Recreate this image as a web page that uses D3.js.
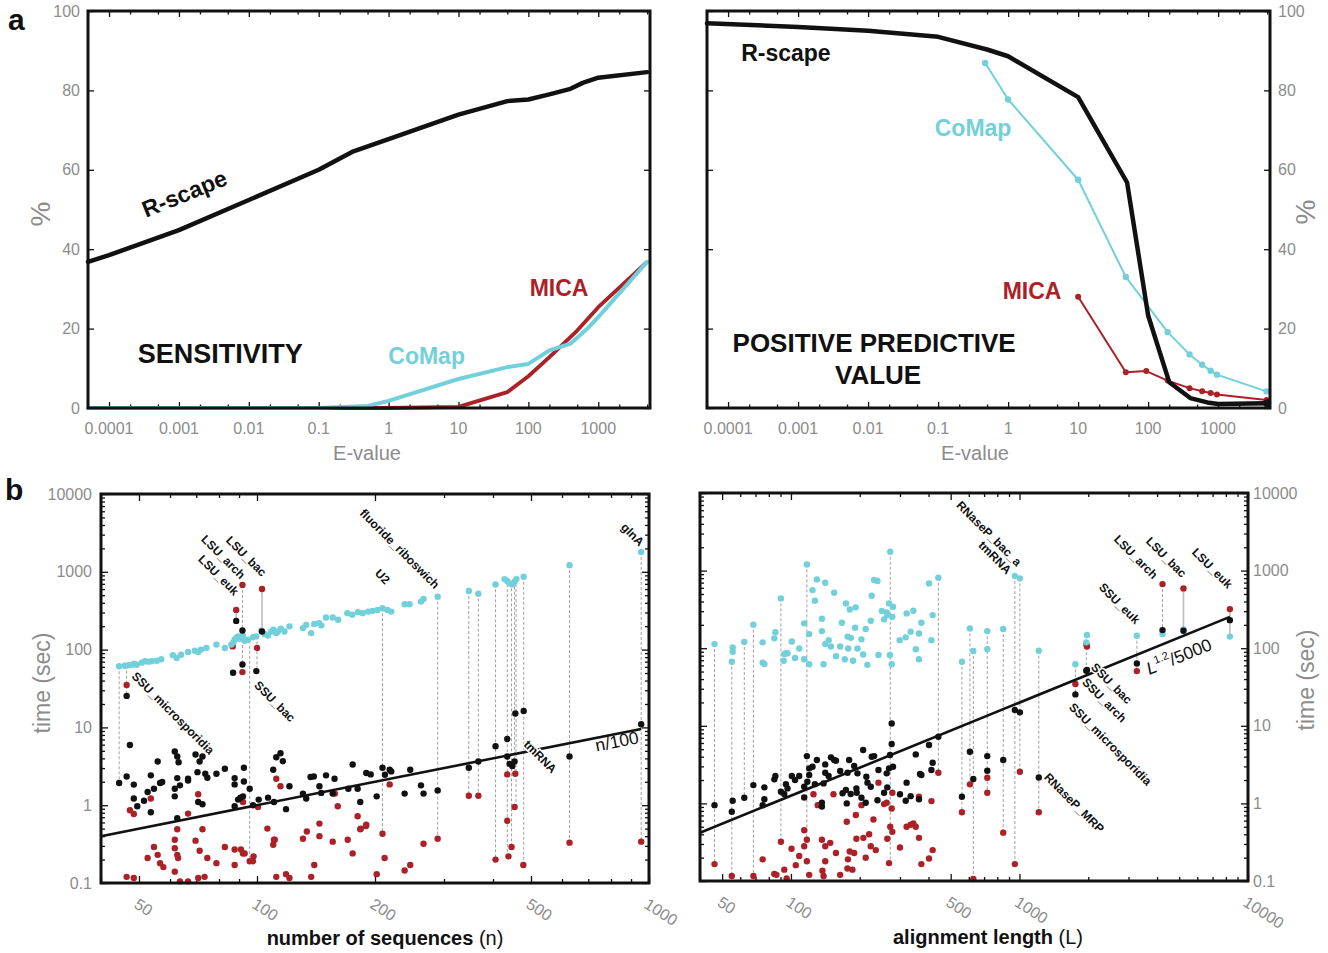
<!DOCTYPE html>
<html lang="en">
<head>
<meta charset="UTF-8">
<title>R-scape vs CoMap vs MICA</title>
<script src="https://d3js.org/d3.v7.min.js"></script>
<style>
  body { margin: 0; background: #fff; }
  svg text { font-family: "Liberation Sans", Arial, sans-serif; }
</style>
</head>
<body>
<svg id="chart" width="1328" height="953"></svg>
<script>
// ---- panel a: sensitivity (%) vs E-value
const sensRscapeE = [5e-5, 1e-4, 1e-3, 1e-2, 0.1, 0.3, 1, 10, 50, 100, 200, 400, 600, 1000, 5000];
const sensRscape  = [36.8, 38.5, 44.8, 52.4, 60, 64.5, 67.7, 73.9, 77.3, 77.7, 79, 80.4, 81.9, 83.2, 84.6];
const sensComapE  = [5e-5, 0.1, 0.5, 1, 10, 50, 100, 200, 400, 700, 1000, 5000];
const sensComap   = [0, 0, 0.5, 1.8, 7.3, 10.3, 11.1, 14.5, 16.2, 20, 22.9, 36.8];
const sensMicaE   = [0.1, 1, 10, 50, 100, 200, 500, 1000, 5000];
const sensMica    = [0, 0, 0.3, 4, 8, 12.8, 19.5, 25.4, 36.8];

// ---- panel a: positive predictive value (%) vs E-value
const ppvRscapeE = [5e-5, 1e-3, 1e-2, 0.1, 0.5, 1, 10, 50, 100, 200, 400, 700, 1000, 5000];
const ppvRscape  = [96.9, 96, 95, 93.5, 90.3, 88.6, 78.3, 56.8, 23.3, 6.5, 2.5, 1.4, 1, 1.2];
const ppvComapE  = [0.47, 1, 10, 48, 190, 390, 590, 780, 960, 4900];
const ppvComap   = [86.9, 77.7, 57.5, 33, 19.1, 13.5, 10.9, 9.4, 8.4, 4.2];
const ppvMicaE   = [10, 48, 94, 190, 390, 590, 780, 960, 4900];
const ppvMica    = [28, 9, 9.3, 6.9, 5, 4.2, 3.8, 3.4, 2];

const eTicks = [1e-4, 1e-3, 1e-2, 0.1, 1, 10, 100, 1000];
const eTickLabels = ["0.0001", "0.001", "0.01", "0.1", "1", "10", "100", "1000"];
const pctTicks = [0, 20, 40, 60, 80, 100];

// ---- panel b: run time (sec) vs number of sequences n  [n, time]
const comapN = [[44.5,61],[46,62],[47,63],[48,64],[48.6,66],[49.3,64],[50.8,68],[51.8,71],[52.8,70],[53.9,71],[55.5,72],[57,75],[61,85],[62.4,78],[64,86],[66.7,93],[69.4,97],[70.8,93],[72,100],[74.3,105],[78.8,116],[82.8,105],[86,116],[87,124],[87.7,134],[88.5,141],[89.5,148],[90.4,138],[91.2,144],[92,152],[93,130],[94.8,134],[97.7,144],[99.6,148],[102.6,175],[104.6,158],[106.7,152],[108.8,171],[110,180],[112,163],[113,171],[115,185],[117.5,171],[121,199],[131,189],[133.5,208],[137.5,163],[140,213],[144,219],[146,205],[150,259],[156,259],[161,242],[170,294],[175,280],[181,303],[186,294],[192,308],[197,315],[203,324],[209,340],[215,324],[220,308],[238,383],[245,383],[262,414],[266,448],[289,479],[347,566],[367,524],[406,689],[428,806],[435,760],[441,710],[448,689],[454,745],[459,806],[479,863],[627,1217],[955,1800]];
const rscapeN = [[88.5,234],[91.8,176],[103,171],[86.9,50.4],[91.8,64.4],[99.6,52.9],[46.5,25.4],[47.4,5.95],[44.5,1.93],[46.5,2.34],[48.5,1.84],[48.5,1.22],[49.5,0.97],[51.5,1.14],[52.6,1.48],[53.6,2.42],[53.6,0.81],[54.6,1.63],[55.8,3.65],[56.6,1.93],[57.3,1.99],[61.7,4.89],[61.7,1.63],[61.7,1.3],[62.6,4.22],[62.6,2.23],[62.6,0.68],[63.1,3.57],[63.6,1.8],[66.7,2.19],[66.7,2.08],[69.7,4.48],[70.5,2.66],[71.4,3.65],[72.6,4.22],[70.8,1.1],[72.6,1.03],[73.8,2.54],[74.7,2.25],[78.8,2.54],[82.8,2.94],[87.7,2.23],[87.7,1.85],[87.7,0.97],[89.5,1.18],[90.7,1.25],[92.1,1.3],[92.6,2.02],[92.6,3.03],[95.8,1.63],[97.7,1],[101,1.18],[106.7,1.25],[110,2.85],[110.5,1.1],[112,4.14],[114.8,4.66],[116.4,3.68],[118.6,0.89],[121,1.75],[131,1.41],[133.5,1.22],[137,2.3],[139.6,2.34],[144.3,1.75],[145.8,1.44],[150,2.42],[156,1.41],[157.7,2.19],[171,1.63],[175.4,3.34],[180.6,1.63],[183.4,1.1],[190,2.59],[195,2.49],[202,1.3],[209,3.03],[212,2.46],[218,2.85],[220,2.72],[238,1.41],[246,2.85],[262,1.8],[266,1.41],[289,1.55],[347,3.03],[367,3.65],[406,5.72],[435,7.1],[435,4.22],[441,3.4],[448,3.18],[454,3.65],[456,15.1],[479,16.3],[627,4.22],[955,11]];
const micaN = [[91.8,676],[88.5,324],[103,601],[86.7,110],[100,105],[91.8,51.4],[46.5,35.1],[47.4,0.86],[48.5,0.77],[53.6,1.22],[46.5,0.12],[48.5,0.116],[52.6,0.21],[54.6,0.29],[55.8,0.23],[56.6,0.18],[57.7,0.16],[61.7,0.14],[61.7,0.36],[61.7,0.28],[62.6,0.49],[62.6,0.23],[62.9,0.21],[63.6,0.105],[66.7,0.78],[66.7,0.105],[69.7,0.35],[70.8,1.38],[71.4,0.26],[72.6,0.49],[73.5,0.12],[70.8,0.116],[74.7,0.21],[78.8,0.18],[82.8,0.29],[87.7,0.27],[87.7,0.17],[91,0.27],[92.1,1.1],[92.1,0.24],[93,0.24],[95.8,0.19],[97.7,0.19],[98,0.22],[100.6,0.95],[106.3,0.5],[110,0.31],[110.5,0.36],[111,0.36],[112,2.19],[114.8,1.75],[112,0.12],[118.6,0.13],[121,0.116],[131,0.37],[134,0.46],[137.5,0.12],[140,0.17],[144.3,0.58],[144.3,0.4],[156,0.34],[158,1.41],[160.7,0.97],[170.4,0.36],[175.4,0.24],[180.6,0.72],[183.4,0.49],[189.7,0.54],[184,0.5],[190,0.56],[202,0.13],[209,0.43],[211.6,0.21],[218,1.85],[238,0.145],[246,0.17],[266,0.32],[289,0.37],[347,1.32],[367,1.32],[406,0.2],[435,2.49],[435,0.63],[438,0.22],[446,0.29],[456,2.54],[454,0.95],[478,0.17],[627,0.33],[955,0.34]];
// same family joined: [n, top, bottom, solid]
const linksN = [[44.5,61,1.93,0],[46.5,62,25.4,0],[88.5,324,234,1],[91.8,676,51.4,0],[95.8,130,0.19,0],[100,148,52.9,0],[103,601,171,1],[209,340,0.43,0],[289,479,0.37,0],[347,566,1.32,0],[367,524,1.32,0],[406,689,0.2,0],[435,806,0.22,0],[446,710,0.29,0],[454,745,2.54,0],[458,806,0.95,0],[479,863,0.17,0],[627,1217,0.33,0],[955,1800,0.34,0]];
const namesN = [["SSU_microsporidia",47.7,44.5],["SSU_bac",98,34],["LSU_euk",70.5,1420],["LSU_arch",71.8,2560],["LSU_bac",83,2490],["U2",199,937],["fluoride_riboswich",182,5530],["glnA",845,3660],["tmRNA",477,5.9]];
const nTicks = [50, 100, 200, 500, 1000];

// ---- panel b: run time (sec) vs alignment length L  [L, time]
const comapL = [[46.3,113],[55.1,67],[55.6,90],[55.6,102],[62.5,120],[68.5,201],[75.2,119],[76.5,62.5],[75.2,65],[84.6,134],[85.5,161],[90.4,438],[93.5,84],[95.1,86],[96.6,86],[93,69],[100.9,122],[104.2,75],[108.7,99],[114.3,209],[114.3,72],[117.4,1202],[120.2,152],[120.2,62],[124.3,561],[127.3,409],[129.9,770],[136.6,240],[136.6,166],[138.9,62],[141.3,698],[141.3,113],[146.2,127],[149.6,105],[154.6,519],[157.4,79],[164.2,105],[167,213],[172,72],[174,378],[177,141],[178,99],[181,316],[183,136],[187,69],[191,184],[192,336],[195.5,99],[203.5,130],[207,83],[212.4,177],[216,61],[223.5,226],[225.7,475],[231.2,755],[239.1,733],[241.5,82],[250,301],[255.6,235],[262.4,289],[264,267],[268.7,378],[271,82],[272,1750],[276,62],[277.8,254],[279.7,342],[299,127],[317.8,138],[320.7,281],[334,163],[343.3,304],[351.7,97],[363.3,155],[363.3,72],[372.2,213],[402,684],[411.6,127],[417,267],[441.7,809],[560,67],[606.5,180],[628,92],[723,166],[723,97],[849,177],[955,851],[1004,794],[1215,93],[1757,62],[1961,119],[1974,148],[3263,145],[4226,152],[5220,175],[8330,141]];
const rscapeL = [[46.3,0.95],[55.1,0.78],[55.6,1.08],[62.5,1.18],[68.5,1.72],[75.2,0.95],[76.5,1.13],[76.5,1.61],[84.6,2.04],[85.5,2.25],[90.4,1.41],[93.5,1.32],[95.1,1.77],[96.6,1.56],[100.9,2.25],[104.2,2],[108.7,2.25],[114.3,1.19],[114.3,1.64],[117.4,4.07],[118,1.9],[120.2,2.32],[120.2,2.83],[124.3,2.97],[129.9,3.62],[127.3,1.77],[136.6,1.02],[136.6,0.91],[138.9,1.81],[141.3,3.18],[141.3,2.48],[146.2,2.25],[149.6,3.92],[154.6,3.62],[157.4,3.55],[164.2,2.61],[168.2,1.35],[174,1.49],[175.5,1],[177,2.48],[179.7,3.62],[182.6,1.32],[189.1,3.03],[193.4,1.56],[194,1.37],[195.5,2.44],[203.5,1.18],[207,4.87],[212.4,1.02],[213.8,2.21],[216.2,1.85],[223.5,1.64],[225.7,3.99],[231.2,4.07],[239.1,1.1],[241.5,2.69],[255.6,1.37],[262.4,2.44],[264,1.61],[268.7,2.83],[271.4,4.2],[276,5.82],[276,10.7],[279.7,2.97],[300,1.31],[317.8,1.08],[320.7,1.85],[334,1.24],[351.7,4.28],[363.3,1.13],[367.2,2.39],[372.2,2.32],[402,5.65],[411.6,2.69],[417,3.34],[441.7,7.23],[560,1.22],[607,4.63],[628,2.06],[723,4.07],[723,2.64],[849,3.62],[955,16],[1004,14.9],[1215,2.16],[1757,25.4],[1961,51.3],[1974,52.3],[3263,63.7],[4226,171],[5220,168],[8330,230]];
const micaL = [[46.3,0.165],[55.1,0.116],[68.5,0.116],[75.2,0.19],[84.6,0.123],[86.4,0.12],[90.4,0.32],[93.5,0.14],[95.8,0.108],[100.6,0.26],[105,0.16],[108.7,0.21],[114.3,0.28],[117.4,0.34],[114.3,0.45],[117.4,0.18],[120.2,0.12],[125.5,1.31],[131,0.95],[136.6,0.34],[137.3,0.136],[138.9,0.116],[141.3,0.28],[141.3,0.18],[148.6,0.31],[153.5,1.31],[157.4,0.23],[164.2,0.12],[175.5,0.58],[176.7,0.145],[177.6,0.19],[180.8,0.24],[185.8,0.14],[189.1,0.23],[192.3,0.71],[193.4,0.35],[203.5,0.95],[207.5,0.36],[212.4,0.2],[219.9,0.4],[223.5,0.28],[229.6,0.62],[235.1,0.25],[241.5,1.85],[255.6,0.98],[262.4,1.02],[264,0.35],[268.7,0.17],[272,0.5],[277.8,0.43],[277.8,1.37],[276,0.86],[300,0.27],[320.7,0.5],[334,0.53],[343.3,0.55],[351.7,0.5],[363.3,1.22],[363.3,0.36],[372.2,0.165],[402,0.195],[417,0.25],[412,1.07],[441.7,2.48],[560,0.77],[607,1.76],[628,0.106],[723,2.14],[723,1.37],[849,0.42],[955,0.165],[1004,2.56],[1215,0.77],[1757,34.5],[1961,113],[1974,105],[3263,50.7],[4226,670],[5220,590],[8330,319]];
const linksL = [[46.3,113,0.165,0],[55.1,67,0.116,0],[62.5,120,1.18,0],[68.5,201,0.116,0],[90.4,438,0.32,0],[117.4,1202,0.34,0],[272,1750,0.17,0],[441.7,809,2.48,0],[560,67,0.77,0],[607,180,1.76,0],[628,92,0.106,0],[723,166,1.37,0],[849,177,0.42,0],[955,851,0.165,0],[1004,794,2.56,0],[1215,93,0.77,0],[1757,62,25.4,0],[1961,119,51.3,0],[3263,145,50.7,0],[4226,670,152,0],[5220,590,168,1],[8330,319,141,1]];
const namesL = [["RNaseP_bac_a",526,6800],["tmRNA",656,2075],["LSU_arch",2570,2480],["LSU_bac",3550,2340],["LSU_euk",5640,1690],["SSU_euk",2210,597],["SSU_bac",2040,55.6],["SSU_arch",1866,35.6],["SSU_microsporidia",1636,17],["RNaseP_MRP",1273,2.12]];
const lTicks = [50, 100, 500, 1000, 10000];

const timeTicks = [0.1, 1, 10, 100, 1000, 10000];

const CYAN = "#72d0da", RED = "#ab2127", BLACK = "#111", GREY = "#8c8c8c";

const svg = d3.select("#chart");

// scales
const xA1 = d3.scaleLog().domain([5e-5, 5500]).range([88, 650]);
const xA2 = d3.scaleLog().domain([5e-5, 5500]).range([707, 1270]);
const yA  = d3.scaleLinear().domain([0, 100]).range([408, 11]);
const xB1 = d3.scaleLog().domain([40, 1000]).range([101, 649]);
const xB2 = d3.scaleLog().domain([40, 10000]).range([700, 1248]);
const yB1 = d3.scaleLog().domain([0.1, 10000]).range([883, 494]);
const yB2 = d3.scaleLog().domain([0.1, 10000]).range([881, 493]);

function lead(v) {
  return Math.round(v / Math.pow(10, Math.floor(Math.log10(v) + 1e-9)));
}

// inward ticks on one side
function ticks(orient, scale, pos, values, len) {
  const gen = {bottom: d3.axisBottom, top: d3.axisTop, left: d3.axisLeft, right: d3.axisRight}[orient];
  const tr = (orient == "bottom" || orient == "top") ? `translate(0,${pos})` : `translate(${pos},0)`;
  const g = svg.append("g").attr("transform", tr)
    .call(gen(scale).tickValues(values).tickSize(-len).tickFormat(""));
  g.select(".domain").remove();
  g.selectAll("line").attr("stroke", BLACK).attr("stroke-width", 1.3);
}

function frame(x, y) {
  const [x0, x1] = x.range(), [y0, y1] = y.range();
  svg.append("rect").attr("x", x0).attr("y", y1).attr("width", x1 - x0).attr("height", y0 - y1)
    .attr("fill", "none").attr("stroke", BLACK).attr("stroke-width", 3);
}

function text(str, x, y, o) {
  const t = svg.append("text").attr("x", x).attr("y", y).text(str)
    .attr("font-size", o.size || 16).attr("fill", o.fill || BLACK)
    .attr("text-anchor", o.anchor || "middle");
  if (o.bold) t.attr("font-weight", "bold");
  if (o.rotate) t.attr("transform", `rotate(${o.rotate},${x},${y})`);
  if (o.central) t.attr("dominant-baseline", "central");
  return t;
}

// ================= panel a =================
function panelA(x, yLabX, yAnchor, series) {
  ticks("bottom", x, 408, eTicks, 6);
  ticks("top", x, 11, eTicks, 6);
  const minor = x.ticks().filter(v => [2, 5].includes(lead(v)));
  ticks("bottom", x, 408, minor, 3.5);
  ticks("top", x, 11, minor, 3.5);
  ticks("left", yA, x.range()[0], pctTicks, 6);
  ticks("right", yA, x.range()[1], pctTicks, 6);

  svg.append("g").selectAll("text").data(eTicks).join("text")
    .attr("x", d => x(d)).attr("y", 434).attr("text-anchor", "middle")
    .attr("font-size", 16).attr("fill", GREY)
    .text((d, i) => eTickLabels[i]);
  svg.append("g").selectAll("text").data(pctTicks).join("text")
    .attr("x", yLabX).attr("y", d => yA(d)).attr("dy", "0.35em").attr("text-anchor", yAnchor)
    .attr("font-size", 16).attr("fill", GREY).text(d => d);

  const line = d3.line().x(d => x(d[0])).y(d => yA(d[1]));
  series.forEach(s => {
    const pts = s.e.map((e, i) => [e, s.v[i]]);
    svg.append("path").datum(pts).attr("d", line).attr("fill", "none")
      .attr("stroke", s.color).attr("stroke-width", s.w)
      .attr("stroke-linejoin", "round").attr("stroke-linecap", "round");
    if (s.dots) {
      svg.append("g").selectAll("circle").data(s.dots == "last" ? pts.slice(-1) : pts).join("circle")
        .attr("cx", d => x(d[0])).attr("cy", d => yA(d[1]))
        .attr("r", s.r).attr("fill", s.color);
    }
  });
  frame(x, yA);
}

panelA(xA1, 80, "end", [
  {e: sensRscapeE, v: sensRscape, color: BLACK, w: 4.5},
  {e: sensMicaE, v: sensMica, color: RED, w: 3.8},
  {e: sensComapE, v: sensComap, color: CYAN, w: 4}
]);
panelA(xA2, 1278, "start", [
  {e: ppvComapE, v: ppvComap, color: CYAN, w: 2, dots: "all", r: 3.2},
  {e: ppvMicaE, v: ppvMica, color: RED, w: 2, dots: "all", r: 3},
  {e: ppvRscapeE, v: ppvRscape, color: BLACK, w: 4.5, dots: "last", r: 4}
]);

text("R-scape", xA1(0.0012), yA(54), {size: 23, bold: true, rotate: -22, central: true});
text("SENSITIVITY", xA1(0.0039), yA(13.6), {size: 27, bold: true, central: true});
text("CoMap", xA1(3.5), yA(13.1), {size: 23, bold: true, fill: CYAN, central: true});
text("MICA", xA1(275), yA(30.2), {size: 23, bold: true, fill: RED, central: true});

text("R-scape", xA2(6.7e-4), yA(89.4), {size: 23, bold: true, central: true});
text("CoMap", xA2(0.316), yA(70.6), {size: 23, bold: true, fill: CYAN, central: true});
text("MICA", xA2(2.2), yA(29.4), {size: 23, bold: true, fill: RED, central: true});
text("POSITIVE PREDICTIVE", xA2(0.0122), yA(16.3), {size: 26, bold: true, central: true});
text("VALUE", xA2(0.0139), yA(8.3), {size: 26, bold: true, central: true});

text("E-value", 367, 460, {size: 20, fill: GREY});
text("E-value", 975, 460, {size: 20, fill: GREY});
text("%", 40, 214, {size: 28, fill: GREY, rotate: -90, central: true});
text("%", 1305, 212, {size: 28, fill: GREY, rotate: -90, central: true});
text("a", 8, 30, {size: 30, bold: true, anchor: "start"});

// ================= panel b =================
function panelB(x, y, major, yLabX, yAnchor, data, links, names, fit) {
  const [bx0, bx1] = x.range(), by = y.range()[0], ty = y.range()[1];
  const xMinor = x.ticks().filter(v => !major.includes(v));
  const yMinor = y.ticks().filter(v => !timeTicks.includes(v));
  ticks("bottom", x, by, major, 7); ticks("top", x, ty, major, 7);
  ticks("bottom", x, by, xMinor, 4); ticks("top", x, ty, xMinor, 4);
  ticks("left", y, bx0, timeTicks, 7); ticks("right", y, bx1, timeTicks, 7);
  ticks("left", y, bx0, yMinor, 4); ticks("right", y, bx1, yMinor, 4);

  svg.append("g").selectAll("text").data(major).join("text")
    .attr("transform", d => `translate(${x(d) - 6},${by + 24}) rotate(33)`)
    .attr("font-size", 16).attr("fill", GREY).text(d => d);
  svg.append("g").selectAll("text").data(timeTicks).join("text")
    .attr("x", yLabX).attr("y", d => y(d)).attr("dy", "0.35em").attr("text-anchor", yAnchor)
    .attr("font-size", 16).attr("fill", GREY).text(d => d);

  svg.append("g").selectAll("line").data(links).join("line")
    .attr("x1", d => x(d[0])).attr("x2", d => x(d[0]))
    .attr("y1", d => y(d[1])).attr("y2", d => y(d[2]))
    .attr("stroke", d => d[3] ? "#bdbdbd" : "#a0a0a0")
    .attr("stroke-width", d => d[3] ? 1.6 : 1)
    .attr("stroke-dasharray", d => d[3] ? null : "3,2");

  data.forEach(([pts, color]) => {
    svg.append("g").selectAll("circle").data(pts).join("circle")
      .attr("cx", d => x(d[0])).attr("cy", d => y(d[1]))
      .attr("r", 3.2).attr("fill", color);
  });

  // reference line
  svg.append("path").datum(fit.range)
    .attr("d", d3.line().x(d => x(d)).y(d => y(Math.pow(d, fit.p) / fit.div)))
    .attr("fill", "none").attr("stroke", BLACK).attr("stroke-width", 2.6);

  svg.append("g").selectAll("text").data(names).join("text")
    .attr("transform", d => `translate(${x(d[1])},${y(d[2])}) rotate(45)`)
    .attr("font-size", 12).attr("font-weight", "bold").attr("fill", BLACK)
    .attr("stroke", "#fff").attr("stroke-width", 3).attr("paint-order", "stroke")
    .text(d => d[0]);

  frame(x, y);
}

panelB(xB1, yB1, nTicks, 92, "end",
  [[micaN, RED], [comapN, CYAN], [rscapeN, BLACK]], linksN, namesN,
  {range: [40, 955], p: 1, div: 100});
panelB(xB2, yB2, lTicks, 1253, "start",
  [[micaL, RED], [comapL, CYAN], [rscapeL, BLACK]], linksL, namesL,
  {range: [40, 8330], p: 1.2, div: 200});

// fit labels
text("n/100", xB1(735), yB1(4.9), {size: 17.5, anchor: "start", rotate: -11});
const fl = text("", xB2(3700), yB2(45), {size: 17.5, anchor: "start", rotate: -22});
fl.append("tspan").attr("font-style", "italic").text("L");
fl.append("tspan").attr("font-size", 11).attr("dy", -8).text("1.2");
fl.append("tspan").attr("dy", 8).text("/5000");

text("time (sec)", 42, 683, {size: 23, fill: GREY, rotate: -90, central: true});
text("time (sec)", 1306, 680, {size: 23, fill: GREY, rotate: -90, central: true});

const t1 = text("", 385, 945, {size: 20});
t1.append("tspan").attr("font-weight", "bold").text("number of sequences ");
t1.append("tspan").text("(n)");
const t2 = text("", 988, 944, {size: 20});
t2.append("tspan").attr("font-weight", "bold").text("alignment length ");
t2.append("tspan").text("(L)");

text("b", 5, 500, {size: 30, bold: true, anchor: "start"});
</script>
</body>
</html>
